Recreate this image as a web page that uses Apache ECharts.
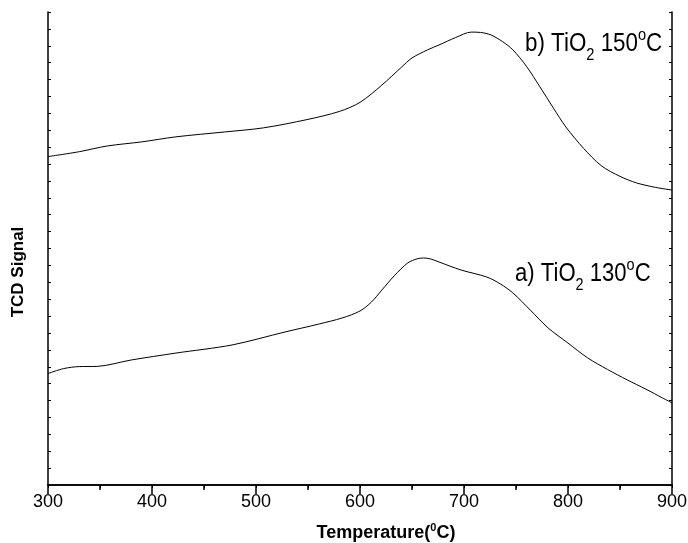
<!DOCTYPE html>
<html>
<head>
<meta charset="utf-8">
<script src="https://cdn.jsdelivr.net/npm/echarts@6/dist/echarts.min.js"></script>
<style>html,body{margin:0;padding:0;background:#fff}#c{width:688px;height:543px}</style>
</head>
<body>
<div id="c"></div>
<script>
// Temperature (°C) and TCD signal (arbitrary units)
const tempB = [300, 330, 357, 390, 423, 470, 507, 549, 580, 600, 621, 640, 650, 665, 676, 692, 707, 716, 726, 737, 747, 760, 773, 786, 798, 815, 832, 850, 866, 884, 900];
const sigB  = [19.44, 19.73, 20.07, 20.31, 20.61, 20.90, 21.14, 21.63, 22.11, 22.65, 23.67, 24.74, 25.28, 25.76, 26.05, 26.49, 26.81, 26.79, 26.64, 26.25, 25.76, 24.79, 23.57, 22.31, 21.19, 19.93, 18.90, 18.27, 17.88, 17.62, 17.46];
const tempA = [300, 315, 330, 347, 380, 423, 477, 528, 560, 583, 600, 611, 621, 633, 646, 655, 661, 668, 676, 697, 722, 735, 747, 764, 781, 800, 819, 838, 857, 875, 891, 900];
const sigA  = [6.60, 6.89, 7.01, 7.02, 7.40, 7.81, 8.29, 9.06, 9.52, 9.89, 10.30, 10.83, 11.54, 12.39, 13.15, 13.39, 13.44, 13.38, 13.20, 12.73, 12.31, 11.90, 11.37, 10.34, 9.29, 8.40, 7.52, 6.84, 6.22, 5.67, 5.15, 4.86];
const xTicks = [300, 400, 500, 600, 700, 800, 900];
const labelB = ['b) TiO', '2', ' 150', 'o', 'C'];
const labelA = ['a) TiO', '2', ' 130', 'o', 'C'];

const FONT = "'Liberation Sans', Arial, sans-serif";
const chart = echarts.init(document.getElementById('c'));
const richLab = {
  n: {fontFamily: FONT, fontSize: 26, color: '#000', lineHeight: 30, verticalAlign: 'bottom'},
  sub: {fontFamily: FONT, fontSize: 17, color: '#000', lineHeight: 17, verticalAlign: 'bottom', padding: [0, 0, -7, 0]},
  sup: {fontFamily: FONT, fontSize: 17, color: '#000', lineHeight: 17, verticalAlign: 'top'}
};
function labText(p) {
  return '{n|' + p[0] + '}{sub|' + p[1] + '}{n|' + p[2] + '}{sup|' + p[3] + '}{n|' + p[4] + '}';
}
chart.setOption({
  animation: false,
  backgroundColor: '#fff',
  grid: {left: 48, right: 16, top: 12, bottom: 58, outerBoundsMode: 'none', containLabel: false},
  xAxis: [{
    type: 'value', min: xTicks[0], max: xTicks[xTicks.length - 1], interval: 100,
    position: 'bottom',
    axisLine: {show: true, lineStyle: {color: '#000', width: 1.5}},
    axisTick: {show: true, inside: false, length: 9, lineStyle: {color: '#000', width: 1.5}},
    minorTick: {show: true, splitNumber: 2, length: 5, lineStyle: {color: '#000', width: 1.5}},
    splitLine: {show: false},
    axisLabel: {color: '#000', fontFamily: FONT, fontSize: 18, margin: 8},
    name: '{b|Temperature(}{s|0}{b|C)}',
    nameLocation: 'middle', nameGap: 37,
    nameTextStyle: {padding: [0, 0, 0, 52], rich: {
      b: {fontFamily: FONT, fontWeight: 'bold', fontSize: 18, color: '#000', lineHeight: 20, verticalAlign: 'bottom'},
      s: {fontFamily: FONT, fontWeight: 'bold', fontSize: 11, color: '#000', lineHeight: 11, verticalAlign: 'top'}
    }}
  }, {
    type: 'value', min: 300, max: 900, interval: 50, position: 'top',
    axisLine: {show: true, lineStyle: {color: '#000', width: 1.5}},
    axisTick: {show: true, inside: true, length: 3, lineStyle: {color: '#000', width: 1}},
    axisLabel: {show: false}, splitLine: {show: false}
  }],
  yAxis: [{
    type: 'value', min: 0, max: 28, interval: 1, position: 'left',
    axisLine: {show: true, lineStyle: {color: '#000', width: 1.5}},
    axisTick: {show: true, inside: true, length: 3, lineStyle: {color: '#000', width: 1}},
    axisLabel: {show: false}, splitLine: {show: false},
    name: 'TCD Signal', nameLocation: 'middle', nameGap: 21, nameRotate: 90,
    nameTextStyle: {fontFamily: FONT, fontWeight: 'bold', fontSize: 17, color: '#000', padding: [0, 47, 0, 0]}
  }, {
    type: 'value', min: 0, max: 28, interval: 1, position: 'right',
    axisLine: {show: true, lineStyle: {color: '#000', width: 1.5}},
    axisTick: {show: true, inside: true, length: 3, lineStyle: {color: '#000', width: 1}},
    axisLabel: {show: false}, splitLine: {show: false}
  }],
  series: [{
    type: 'line', name: 'b', smooth: 0.3, symbol: 'none',
    lineStyle: {color: '#000', width: 1},
    data: tempB.map((t, i) => [t, sigB[i]])
  }, {
    type: 'line', name: 'a', smooth: 0.3, symbol: 'none',
    lineStyle: {color: '#000', width: 1},
    data: tempA.map((t, i) => [t, sigA[i]])
  }],
  graphic: [{
    type: 'text', x: 525, y: 27, scaleX: 0.86,
    style: {text: labText(labelB), rich: richLab}
  }, {
    type: 'text', x: 515, y: 257, scaleX: 0.85,
    style: {text: labText(labelA), rich: richLab}
  }]
});
</script>
</body>
</html>
